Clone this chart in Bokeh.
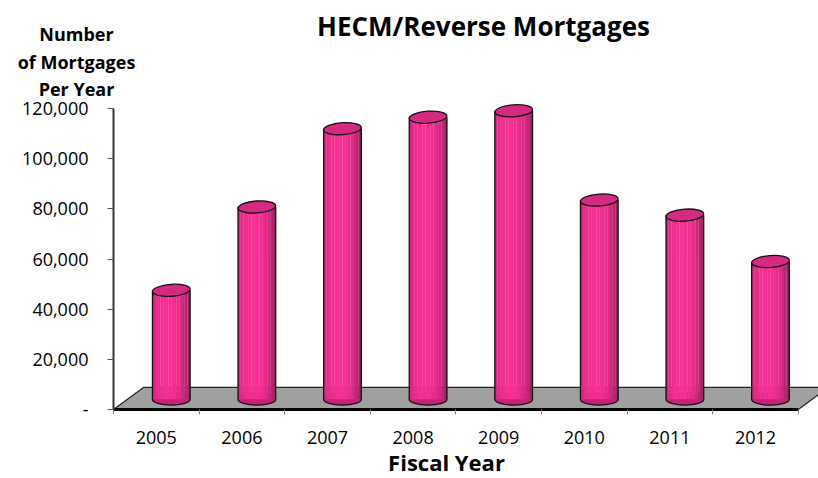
import numpy as np
from bokeh.plotting import figure
from bokeh.models import (FixedTicker, NumeralTickFormatter, Label, Range1d, LinearAxis)
from bokeh.embed import file_html
from bokeh.resources import INLINE

# ---- data ----
years = ["2005", "2006", "2007", "2008", "2009", "2010", "2011", "2012"]
mortgages = [43131, 76351, 107558, 112154, 114692, 79106, 73093, 54591]
y_ticks = [0, 20000, 40000, 60000, 80000, 100000, 120000]
title_text = "HECM/Reverse Mortgages"
x_title = "Fiscal Year"
y_title_lines = ["Number", "of Mortgages", "Per Year"]

# ---- geometry (style) ----
FONT = "Open Sans"
W, H = 818, 478
ORIGIN_X = 113       # canvas x of the front-left corner
ORIGIN_Y = 409       # canvas y of value 0 (front)
PX_X = 85.6          # px per category
PX_Y = 398.7         # value units per px
DX = 0.175           # mid-depth x offset (categories)
DY = 4400            # mid-depth y offset (value units)
BACK_DX = 0.35
BACK_DY = 8800
CYL_W = 0.44         # cylinder width in categories
N = len(years)

p = figure(width=W, height=H, output_backend="svg", toolbar_location=None,
           title=None, min_border=0, x_axis_location=None, y_axis_location=None,
           x_range=Range1d(-ORIGIN_X / PX_X, (W - ORIGIN_X) / PX_X),
           y_range=Range1d(-(H - ORIGIN_Y) * PX_Y, ORIGIN_Y * PX_Y))
p.outline_line_color = None
p.xgrid.visible = False
p.ygrid.visible = False


def cx_px(px):
    return (px - ORIGIN_X) / PX_X


def cy_px(py):
    return (ORIGIN_Y - py) * PX_Y


# floor
p.patch([0, N, N + BACK_DX, BACK_DX], [0, 0, BACK_DY, BACK_DY],
        fill_color="#a0a0a0", line_color="#222222", line_width=1.2)

# cylinders
base = np.array([246, 48, 148])
nstrip = 14
sx, sw, sb, st, sc = [], [], [], [], []
for i, v in enumerate(mortgages):
    cx = i + 0.5 + DX
    left = cx - CYL_W / 2
    for k in range(nstrip):
        t = (k + 0.5) / nstrip
        f = 1 - 0.38 * abs((t - 0.42) / 0.58) ** 2.5
        c = np.clip(base * f, 0, 255).astype(int)
        sx.append(left + t * CYL_W)
        sw.append(CYL_W / nstrip * 1.08)
        sb.append(DY - 300)
        st.append(DY + v)
        sc.append("#%02x%02x%02x" % tuple(c))

cx_all = [i + 0.5 + DX for i in range(N)]
bot = [DY - 300] * N
tops = [DY + v for v in mortgages]

p.ellipse(x=cx_all, y=bot, width=CYL_W, height=12, height_units="screen",
          fill_color="#c8207a", line_color="#111111", line_width=1.3)
p.vbar(x=sx, width=sw, bottom=sb, top=st, fill_color=sc, line_color=None)
p.segment(x0=[c - CYL_W / 2 for c in cx_all], y0=bot,
          x1=[c - CYL_W / 2 for c in cx_all], y1=tops, line_color="#111111", line_width=1.3)
p.segment(x0=[c + CYL_W / 2 for c in cx_all], y0=bot,
          x1=[c + CYL_W / 2 for c in cx_all], y1=tops, line_color="#111111", line_width=1.3)
p.ellipse(x=cx_all, y=tops, width=CYL_W, height=12, height_units="screen", angle=0.07,
          fill_color="#d42a82", line_color="#111111", line_width=1.3)

# axes (fixed inside the frame so they take no border space)
centers = [i + 0.5 for i in range(N)]
xa = LinearAxis(fixed_location=0)
xa.ticker = FixedTicker(ticks=centers, minor_ticks=list(range(N + 1)))
xa.major_label_overrides = {c: y for c, y in zip(centers, years)}
xa.bounds = (0, N)
xa.axis_line_width = 3
xa.axis_line_color = "black"
xa.major_tick_out = 0
xa.major_tick_in = 0
xa.minor_tick_out = 5
xa.minor_tick_in = 0
xa.minor_tick_line_color = "#888888"
xa.major_label_standoff = 16
xa.major_label_text_font = FONT
xa.major_label_text_font_size = "18px"
xa.major_label_text_color = "black"
p.add_layout(xa, "below")

ya = LinearAxis(fixed_location=0)
ya.ticker = FixedTicker(ticks=y_ticks, minor_ticks=[])
ya.formatter = NumeralTickFormatter(format="0,0")
ya.major_label_overrides = {0: "-"}
ya.bounds = (0, 120000)
ya.axis_line_width = 2
ya.axis_line_color = "#333333"
ya.major_tick_out = 6
ya.major_tick_in = 0
ya.major_tick_line_color = "#555555"
ya.major_label_standoff = 19
ya.major_label_text_font = FONT
ya.major_label_text_font_size = "18px"
ya.major_label_text_color = "black"
p.add_layout(ya, "left")


def lab(text, x, y, size):
    p.add_layout(Label(x=cx_px(x), y=cy_px(y), text=text, text_align="center",
                       text_baseline="middle", text_font=FONT, text_font_style="bold",
                       text_font_size=size, text_color="black"))


lab(title_text, 483, 25, "26px")
for ln, py in zip(y_title_lines, [33, 61, 88]):
    lab(ln, 76, py, "18px")
lab(x_title, 446, 461, "22px")

open("out.html", "w").write(file_html(p, INLINE))
